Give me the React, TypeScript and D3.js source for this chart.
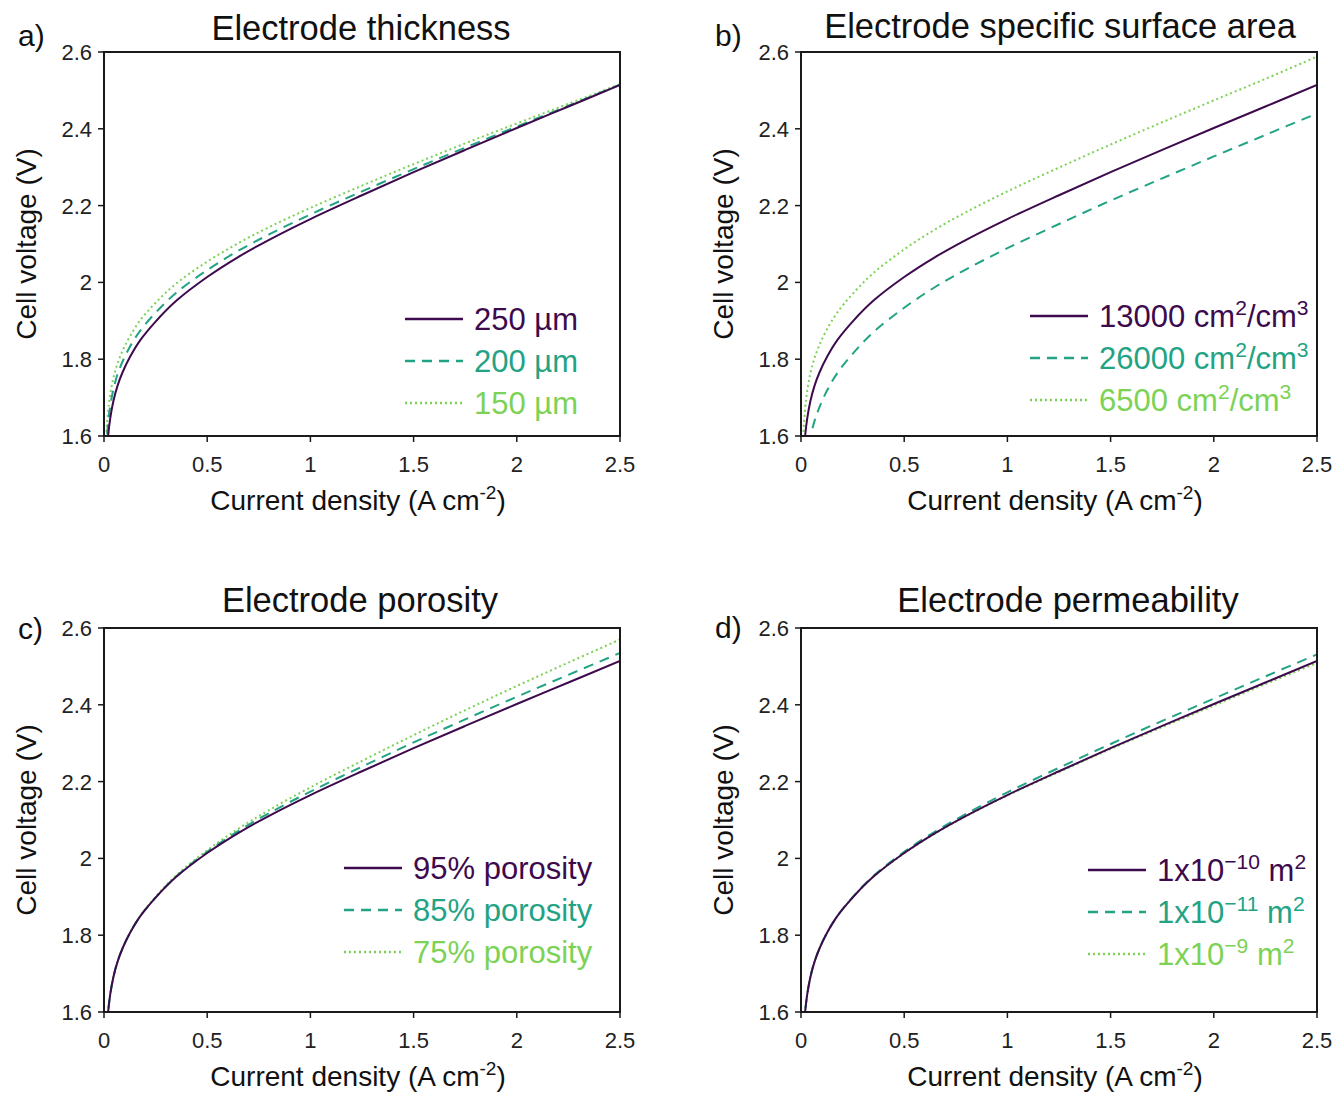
import React from "react";
import * as d3 from "d3";

// Current density grid (A cm^-2) shared by every polarization curve
const currentDensity = [0.01, 0.02, 0.03, 0.045, 0.065, 0.09, 0.125, 0.175, 0.25, 0.35, 0.5, 0.65, 0.8, 1.0, 1.25, 1.5, 1.75, 2.0, 2.25, 2.5];

// Reference electrode (250 µm, 13000 cm2/cm3, 95 % porosity, 1e-10 m2)
const baseVoltage = [1.52, 1.600, 1.645, 1.690, 1.730, 1.766, 1.805, 1.849, 1.898, 1.952, 2.014, 2.066, 2.111, 2.165, 2.227, 2.287, 2.345, 2.402, 2.458, 2.514];

// a) thickness
const thickness200 = [1.56, 1.635, 1.677, 1.720, 1.760, 1.794, 1.832, 1.874, 1.921, 1.973, 2.032, 2.082, 2.125, 2.177, 2.237, 2.295, 2.351, 2.406, 2.460, 2.515];
const thickness150 = [1.598, 1.665, 1.708, 1.750, 1.788, 1.822, 1.859, 1.901, 1.947, 1.997, 2.054, 2.102, 2.144, 2.194, 2.252, 2.308, 2.362, 2.414, 2.465, 2.516];

// b) specific surface area
const area26000 = [1.40, 1.49, 1.545, 1.595, 1.638, 1.676, 1.717, 1.763, 1.814, 1.870, 1.934, 1.988, 2.034, 2.089, 2.152, 2.213, 2.271, 2.328, 2.384, 2.440];
const area6500 = [1.598, 1.672, 1.717, 1.762, 1.802, 1.838, 1.877, 1.921, 1.970, 2.024, 2.086, 2.138, 2.183, 2.237, 2.299, 2.359, 2.417, 2.474, 2.530, 2.588];

// c) porosity
const porosity85 = [1.52, 1.600, 1.645, 1.690, 1.730, 1.766, 1.805, 1.849, 1.898, 1.953, 2.017, 2.071, 2.118, 2.174, 2.239, 2.302, 2.362, 2.421, 2.478, 2.535];
const porosity75 = [1.52, 1.600, 1.645, 1.690, 1.730, 1.766, 1.805, 1.850, 1.900, 1.956, 2.021, 2.077, 2.126, 2.185, 2.254, 2.321, 2.386, 2.449, 2.510, 2.570];

// d) permeability
const perm1e11 = [1.52, 1.600, 1.645, 1.690, 1.730, 1.766, 1.805, 1.849, 1.899, 1.954, 2.017, 2.070, 2.116, 2.172, 2.236, 2.298, 2.358, 2.416, 2.474, 2.531];
const perm1e9 = [1.52, 1.600, 1.645, 1.690, 1.730, 1.766, 1.805, 1.849, 1.898, 1.952, 2.013, 2.065, 2.110, 2.164, 2.225, 2.285, 2.342, 2.398, 2.454, 2.509];

const xTicks = [0, 0.5, 1, 1.5, 2, 2.5];
const yTicks = [1.6, 1.8, 2, 2.2, 2.4, 2.6];

type Part = { t: string; sup?: boolean };

const labelsThickness: Part[][] = [[{ t: "250 µm" }], [{ t: "200 µm" }], [{ t: "150 µm" }]];
const labelsArea: Part[][] = [
  [{ t: "13000 cm" }, { t: "2", sup: true }, { t: "/cm" }, { t: "3", sup: true }],
  [{ t: "26000 cm" }, { t: "2", sup: true }, { t: "/cm" }, { t: "3", sup: true }],
  [{ t: "6500 cm" }, { t: "2", sup: true }, { t: "/cm" }, { t: "3", sup: true }],
];
const labelsPorosity: Part[][] = [[{ t: "95% porosity" }], [{ t: "85% porosity" }], [{ t: "75% porosity" }]];
const labelsPerm: Part[][] = [
  [{ t: "1x10" }, { t: "−10", sup: true }, { t: " m" }, { t: "2", sup: true }],
  [{ t: "1x10" }, { t: "−11", sup: true }, { t: " m" }, { t: "2", sup: true }],
  [{ t: "1x10" }, { t: "−9", sup: true }, { t: " m" }, { t: "2", sup: true }],
];

const COLORS = ["#3d0a4d", "#22a384", "#7cd255"];
const DASH = [null, "10,7", "2,3"];

const FONT = "'Liberation Sans', Arial, Helvetica, sans-serif";

const PW = 516;
const PH = 384;

const panels = [
  { id: "a", tag: "a)", title: "Electrode thickness", left: 104, top: 52, titleX: 361, titleDy: -12, tagDy: -6, legendX: 405, legendY: 319, series: [baseVoltage, thickness200, thickness150], labels: labelsThickness },
  { id: "b", tag: "b)", title: "Electrode specific surface area", left: 801, top: 52, titleX: 1060, titleDy: -14, tagDy: -6, legendX: 1030, legendY: 316, series: [baseVoltage, area26000, area6500], labels: labelsArea },
  { id: "c", tag: "c)", title: "Electrode porosity", left: 104, top: 628, titleX: 360, titleDy: -16, tagDy: 11, legendX: 344, legendY: 868, series: [baseVoltage, porosity85, porosity75], labels: labelsPorosity },
  { id: "d", tag: "d)", title: "Electrode permeability", left: 801, top: 628, titleX: 1068, titleDy: -16, tagDy: 10, legendX: 1088, legendY: 870, series: [baseVoltage, perm1e11, perm1e9], labels: labelsPerm },
];

function RichText({ parts, x, y, size, fill, anchor }: { parts: Part[]; x: number; y: number; size: number; fill: string; anchor?: string }) {
  const nodes: React.ReactNode[] = [];
  let raised = false;
  parts.forEach((p, i) => {
    let dy = 0;
    if (p.sup && !raised) { dy = -size * 0.38; raised = true; }
    else if (!p.sup && raised) { dy = size * 0.38; raised = false; }
    nodes.push(
      <tspan key={i} dy={dy} fontSize={p.sup ? size * 0.68 : size}>{p.t}</tspan>
    );
  });
  return (
    <text x={x} y={y} fill={fill} fontFamily={FONT} fontSize={size} textAnchor={anchor || "start"}>{nodes}</text>
  );
}

function Panel({ p }: { p: (typeof panels)[number] }) {
  const x = d3.scaleLinear().domain([0, 2.5]).range([p.left, p.left + PW]);
  const y = d3.scaleLinear().domain([1.6, 2.6]).range([p.top + PH, p.top]);
  const line = d3
    .line<number>()
    .x((_, i) => x(currentDensity[i]))
    .y((v) => y(v))
    .curve(d3.curveCatmullRom.alpha(0.5));
  const clipId = `clip-${p.id}`;
  const order = [2, 1, 0];
  return (
    <g>
      <defs>
        <clipPath id={clipId}>
          <rect x={p.left} y={p.top} width={PW} height={PH} />
        </clipPath>
      </defs>
      <g clipPath={`url(#${clipId})`}>
        {order.map((k) => (
          <path key={k} d={line(p.series[k]) || ""} fill="none" stroke={COLORS[k]} strokeWidth={2} strokeDasharray={DASH[k] || undefined} />
        ))}
      </g>
      <rect x={p.left} y={p.top} width={PW} height={PH} fill="none" stroke="#1a1a1a" strokeWidth={2} />
      {yTicks.map((t) => (
        <g key={`y${t}`}>
          <line x1={p.left - 6} x2={p.left} y1={y(t)} y2={y(t)} stroke="#1a1a1a" strokeWidth={1.5} />
          <text x={p.left - 12} y={y(t) + 8} textAnchor="end" fontFamily={FONT} fontSize={22} fill="#222">{String(t)}</text>
        </g>
      ))}
      {xTicks.map((t) => (
        <g key={`x${t}`}>
          <line x1={x(t)} x2={x(t)} y1={p.top + PH} y2={p.top + PH + 6} stroke="#1a1a1a" strokeWidth={1.5} />
          <text x={x(t)} y={p.top + PH + 36} textAnchor="middle" fontFamily={FONT} fontSize={22} fill="#222">{String(t)}</text>
        </g>
      ))}
      <text x={p.titleX} y={p.top + p.titleDy} textAnchor="middle" fontFamily={FONT} fontSize={34.5} fill="#111">{p.title}</text>
      <text x={p.left - 86} y={p.top + p.tagDy} fontFamily={FONT} fontSize={30} fill="#111">{p.tag}</text>
      <text transform={`translate(${p.left - 68},${p.top + PH / 2}) rotate(-90)`} textAnchor="middle" fontFamily={FONT} fontSize={28} fill="#111">Cell voltage (V)</text>
      <RichText parts={[{ t: "Current density (A cm" }, { t: "-2", sup: true }, { t: ")" }]} x={p.left + PW / 2 - 4} y={p.top + PH + 74} size={28} fill="#111" anchor="middle" />
      {p.labels.map((lab, k) => {
        const ly = p.legendY + k * 42;
        return (
          <g key={`l${k}`}>
            <line x1={p.legendX} x2={p.legendX + 58} y1={ly} y2={ly} stroke={COLORS[k]} strokeWidth={2.5} strokeDasharray={DASH[k] || undefined} />
            <RichText parts={lab} x={p.legendX + 69} y={ly + 11} size={31} fill={COLORS[k]} />
          </g>
        );
      })}
    </g>
  );
}

export default function App() {
  return (
    <svg width={1336} height={1093} style={{ position: "absolute", left: 0, top: 0, background: "#fff" }}>
      <rect width={1336} height={1093} fill="#fff" />
      {panels.map((p) => (
        <Panel key={p.id} p={p} />
      ))}
    </svg>
  );
}
